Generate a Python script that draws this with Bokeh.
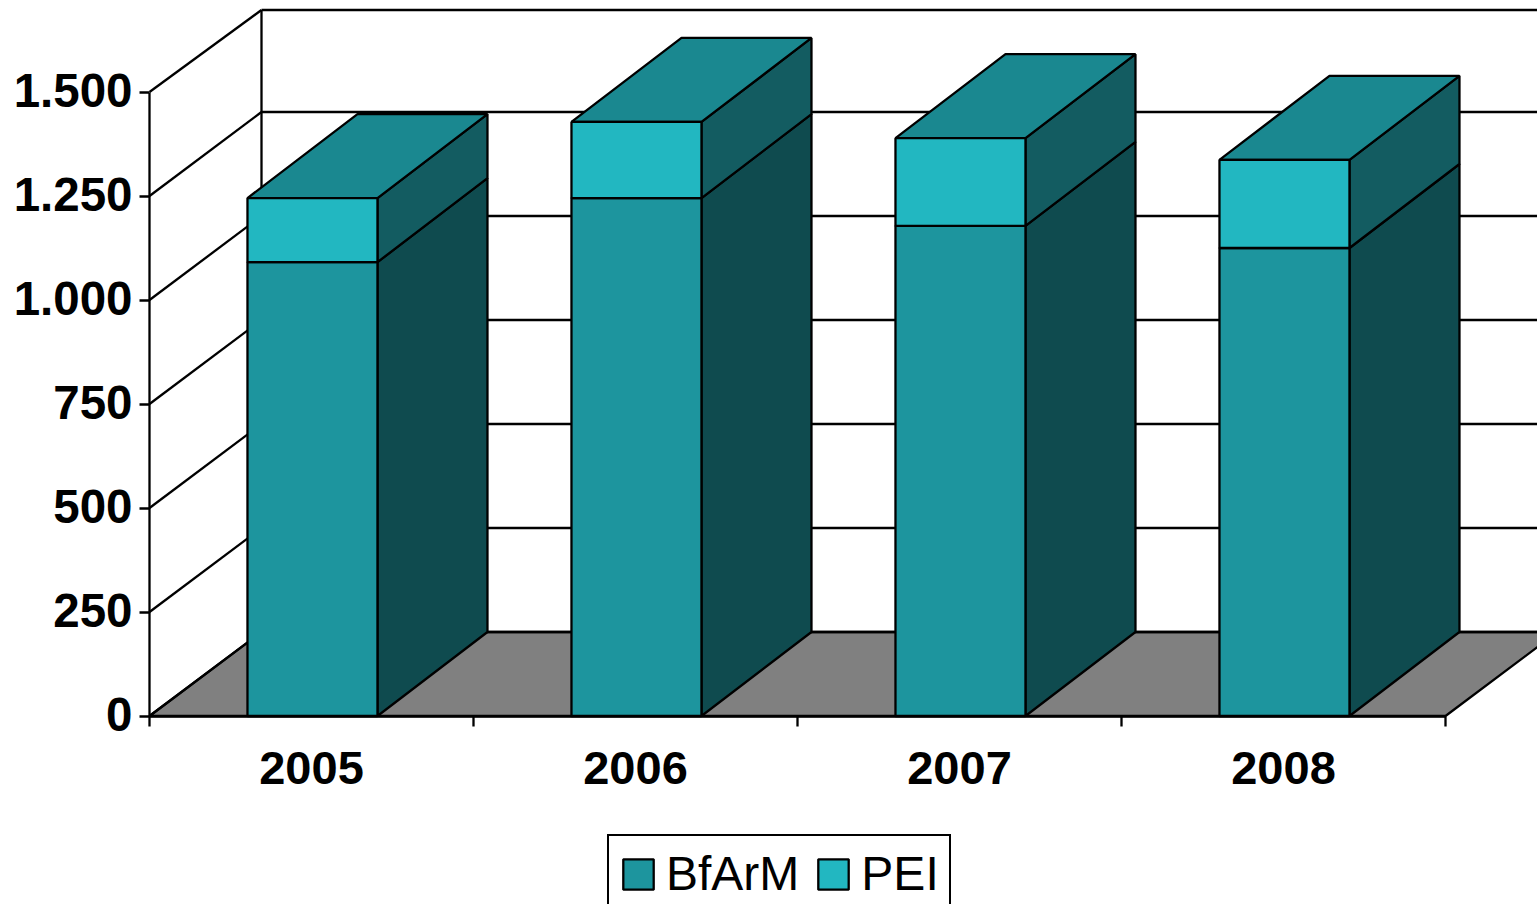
from bokeh.core.properties import value
from bokeh.embed import file_html
from bokeh.models import ColumnDataSource, FixedTicker, Legend, LegendItem, LinearAxis, Range1d
from bokeh.plotting import figure
from bokeh.resources import INLINE

# Authorisations per year, stacked by institute
years = ["2005", "2006", "2007", "2008"]
bfarm = [1091, 1245, 1178, 1125]
pei = [154, 183, 211, 212]
y_ticks = [0, 250, 500, 750, 1000, 1250, 1500]
y_labels = ["0", "250", "500", "750", "1.000", "1.250", "1.500"]

# Colours of the lit front, the top and the shaded side faces
C_BFARM, C_PEI = "#1d959e", "#22b7c1"
C_TOP, C_SIDE_PEI, C_SIDE_BFARM = "#1a8890", "#135c61", "#0f4b4f"
C_FLOOR = "#808080"

# One category slot is 324 px wide and one unit of y is 0.416 px tall
SLOT_PX, UNIT_PX = 324.0, 0.416
W, H = 1537, 904
ORIGIN_X, ORIGIN_Y = 149, 715.5
WALL_DX, DEPTH_DY = 112 / SLOT_PX, 84 / UNIT_PX
WALL_TOP_TRIM = 2 / UNIT_PX
BAR_DX = 110 / SLOT_PX
BAR_W = 130 / SLOT_PX
BAR_SHIFT = 0.503
LINE_W = 2.3
LABEL_LIFT = 1.5 / UNIT_PX
FONT = "Liberation Sans"

y_start = -(H - ORIGIN_Y) / UNIT_PX
y_end = ORIGIN_Y / UNIT_PX

# The plot area fills the page, so axes are pinned to the data origin
p = figure(
    width=W, height=H, output_backend="svg", toolbar_location=None,
    x_range=Range1d(-ORIGIN_X / SLOT_PX, (W - ORIGIN_X) / SLOT_PX),
    y_range=Range1d(y_start, y_end),
    min_border=0, outline_line_color=None,
    background_fill_color="white", border_fill_color="white",
)
p.grid.visible = False

n = len(years)

# Floor of the box
p.patch([0, WALL_DX, n + WALL_DX, n], [0, DEPTH_DY, DEPTH_DY, 0],
        fill_color=C_FLOOR, line_color="black", line_width=LINE_W)

# Back wall: horizontal rules, plus the oblique rules on the left wall
top = y_ticks[-1]
wall_levels = [t + DEPTH_DY for t in y_ticks[:-1]] + [top + DEPTH_DY - WALL_TOP_TRIM]
p.multi_line(
    [[WALL_DX, n + WALL_DX] for _ in wall_levels],
    [[w, w] for w in wall_levels],
    line_color="black", line_width=LINE_W)
p.multi_line(
    [[0, WALL_DX] for _ in y_ticks],
    [[t, w] for t, w in zip(y_ticks, wall_levels)],
    line_color="black", line_width=LINE_W)
p.line([WALL_DX, WALL_DX], [wall_levels[0], wall_levels[-1]], line_color="black", line_width=LINE_W)

face_kw = dict(line_color="black", line_width=LINE_W)
front_bfarm = front_pei = None
for i, (low, high) in enumerate(zip(bfarm, pei)):
    x0 = i + BAR_SHIFT - BAR_W / 2
    x1 = x0 + BAR_W
    total = low + high
    # Shaded side faces
    p.patch([x1, x1 + BAR_DX, x1 + BAR_DX, x1], [0, DEPTH_DY, low + DEPTH_DY, low],
            fill_color=C_SIDE_BFARM, **face_kw)
    p.patch([x1, x1 + BAR_DX, x1 + BAR_DX, x1],
            [low, low + DEPTH_DY, total + DEPTH_DY, total],
            fill_color=C_SIDE_PEI, **face_kw)
    # Top face
    p.patch([x0, x0 + BAR_DX, x1 + BAR_DX, x1],
            [total, total + DEPTH_DY, total + DEPTH_DY, total],
            fill_color=C_TOP, **face_kw)
    # Front faces
    src = ColumnDataSource(dict(left=[x0], right=[x1], low=[low], total=[total]))
    front_bfarm = p.quad(left="left", right="right", bottom=0, top="low", source=src,
                         fill_color=C_BFARM, **face_kw)
    front_pei = p.quad(left="left", right="right", bottom="low", top="total", source=src,
                       fill_color=C_PEI, **face_kw)

# Value axis: line and tick marks on the main scale
ya = p.yaxis[0]
ya.fixed_location = 0
ya.ticker = FixedTicker(ticks=y_ticks)
ya.major_label_text_color = None
ya.major_label_overrides = {t: "" for t in y_ticks}
ya.bounds = (0, top)
ya.axis_line_color = "black"
ya.axis_line_width = LINE_W
ya.major_tick_line_color = "black"
ya.major_tick_line_width = LINE_W
ya.major_tick_in = 0
ya.major_tick_out = 10
ya.minor_tick_line_color = None

# Value labels with German thousands separators, sitting slightly above their ticks
p.extra_y_ranges["labels"] = Range1d(y_start - LABEL_LIFT, y_end - LABEL_LIFT)
label_axis = LinearAxis(y_range_name="labels", ticker=FixedTicker(ticks=y_ticks), fixed_location=0)
label_axis.major_label_overrides = dict(zip(y_ticks, y_labels))
label_axis.axis_line_color = None
label_axis.major_tick_line_color = None
label_axis.minor_tick_line_color = None
label_axis.major_tick_in = 0
label_axis.major_tick_out = 0
label_axis.minor_tick_in = 0
label_axis.minor_tick_out = 0
label_axis.major_label_standoff = 17
label_axis.major_label_text_font = FONT
label_axis.major_label_text_font_style = "bold"
label_axis.major_label_text_font_size = "47.5px"
label_axis.major_label_text_color = "black"
p.add_layout(label_axis, "left")

# Category axis: labels sit mid-slot, tick marks on the slot boundaries
centres = [i + 0.5 for i in range(n)]
xa = p.xaxis[0]
xa.fixed_location = 0
xa.ticker = FixedTicker(ticks=centres, minor_ticks=list(range(n + 1)))
xa.major_label_overrides = dict(zip(centres, years))
xa.bounds = (0, n)
xa.axis_line_color = "black"
xa.axis_line_width = LINE_W
xa.major_tick_line_color = None
xa.major_tick_in = 0
xa.major_tick_out = 10
xa.minor_tick_line_color = "black"
xa.minor_tick_line_width = LINE_W
xa.minor_tick_in = 0
xa.minor_tick_out = 10
xa.major_label_standoff = 26
xa.major_label_text_font = FONT
xa.major_label_text_font_style = "bold"
xa.major_label_text_font_size = "47px"
xa.major_label_text_color = "black"

legend = Legend(
    items=[LegendItem(label=value("BfArM"), renderers=[front_bfarm]),
           LegendItem(label=value("PEI"), renderers=[front_pei])],
    orientation="horizontal", location=(607, -9),
    border_line_color="black", border_line_alpha=1.0, border_line_width=LINE_W,
    background_fill_color="white", background_fill_alpha=1.0,
    glyph_width=38, glyph_height=38, spacing=15, padding=10, margin=0,
    label_standoff=9,
    label_text_font=FONT, label_text_font_size="48px", label_text_color="black",
)
p.add_layout(legend, "center")

open("out.html", "w").write(file_html(p, INLINE))
